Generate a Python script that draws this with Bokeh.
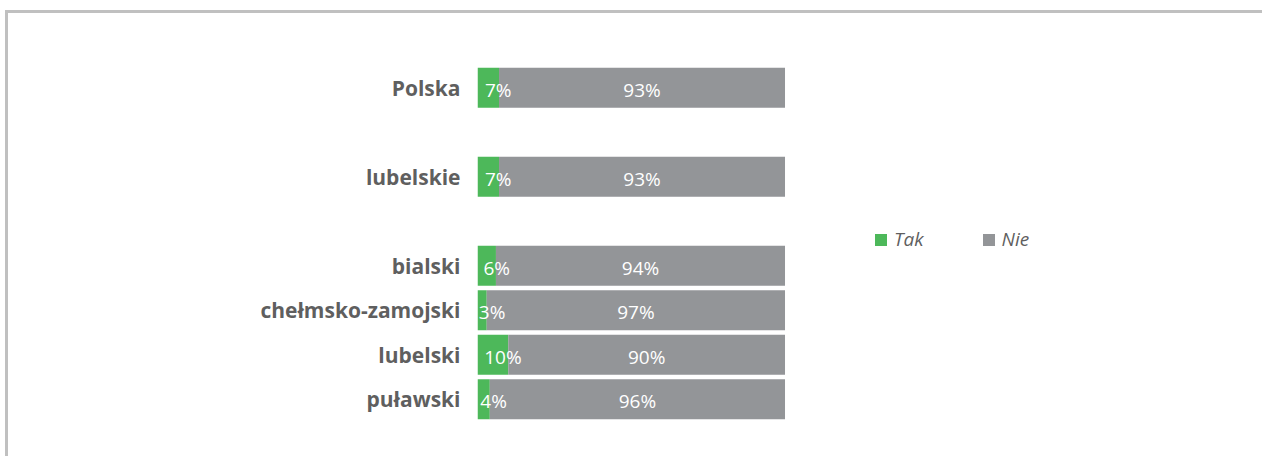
from bokeh.plotting import figure
from bokeh.models import ColumnDataSource, FactorRange, Range1d, Legend
from bokeh.core.properties import value
from bokeh.embed import file_html
from bokeh.resources import INLINE

# ---- data ----
categories = ["Polska", "lubelskie", "bialski", "chełmsko-zamojski", "lubelski", "puławski"]
tak = [7, 7, 6, 3, 10, 4]
nie = [93, 93, 94, 97, 90, 96]
series_names = ["Tak", "Nie"]
# display order top->bottom with blank separators
row_order = ["Polska", " ", "lubelskie", "  ", "bialski", "chełmsko-zamojski", "lubelski", "puławski"]

GREEN = "#4DB85A"
GRAY = "#939598"
TEXT = "#5F5F5F"

src = ColumnDataSource(dict(
    cat=categories,
    tak=tak,
    nie=nie,
    tak_x=[t / 2 for t in tak],
    nie_x=[t + n / 2 for t, n in zip(tak, nie)],
    tak_lbl=[f"{t}%" for t in tak],
    nie_lbl=[f"{n}%" for n in nie],
))

p = figure(
    width=1257, height=446,
    y_range=FactorRange(factors=list(reversed(row_order)), range_padding=0),
    x_range=Range1d(0, 253),
    output_backend="svg", toolbar_location=None,
    min_border_left=469, min_border_right=10, min_border_top=52, min_border_bottom=38,
)
p.styles = {"border-top": "3px solid #c0c0c0", "border-left": "3px solid #c0c0c0"}
p.margin = (10, 0, 0, 5)

r = p.hbar_stack(["tak", "nie"], y="cat", height=0.9, color=[GREEN, GRAY],
                 line_color=None, source=src)

p.text(x="tak_x", y="cat", text="tak_lbl", source=src, x_offset=10, y_offset=2,
       text_align="center", text_baseline="middle", text_color="white",
       text_font=value("Open Sans"), text_font_size="19px")
p.text(x="nie_x", y="cat", text="nie_lbl", source=src, y_offset=2,
       text_align="center", text_baseline="middle", text_color="white",
       text_font=value("Open Sans"), text_font_size="19px")

legend = Legend(items=[(series_names[0], [r[0]]), (series_names[1], [r[1]])],
                orientation="horizontal", location=(396, 169))
legend.glyph_width = 15
legend.glyph_height = 15
legend.label_standoff = 6
legend.spacing = 57
legend.padding = 0
legend.margin = 0
legend.border_line_color = None
legend.background_fill_color = None
legend.label_text_font = "Open Sans"
legend.label_text_font_style = "italic"
legend.label_text_font_size = "19px"
legend.label_text_color = TEXT
p.add_layout(legend)

p.xaxis.visible = False
yax = p.yaxis[0]
yax.axis_line_color = None
yax.major_tick_line_color = None
yax.minor_tick_line_color = None
yax.major_label_standoff = 11
yax.major_label_text_font = "Open Sans"
yax.major_label_text_font_style = "bold"
yax.major_label_text_font_size = "21px"
yax.major_label_text_color = TEXT

p.xgrid.visible = False
p.ygrid.visible = False
p.outline_line_color = None

open("out.html", "w").write(file_html(p, INLINE))
